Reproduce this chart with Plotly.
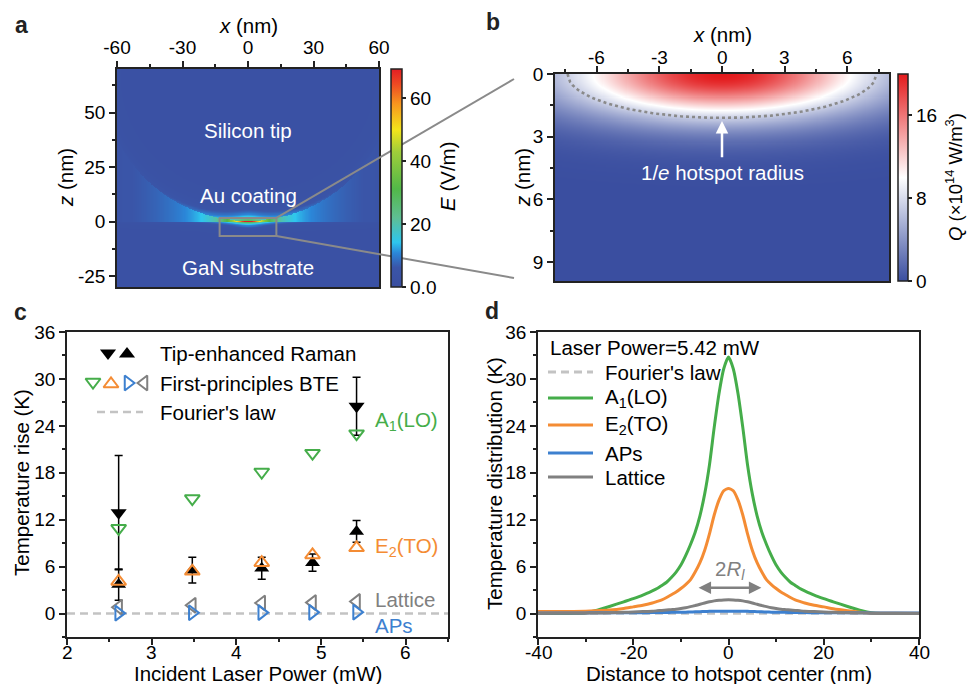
import numpy as np
import plotly.graph_objects as go

W, H = 967, 684
FONT = "Liberation Sans, Arial, sans-serif"

# ---------------- data: panel c ----------------
power = [2.61, 3.48, 4.30, 4.90, 5.42]
ters_a1_power = [2.61, 5.42]
ters_a1 = [12.9, 26.5]
ters_a1_err = [7.3, 3.7]
ters_e2 = [3.7, 5.55, 5.8, 6.5, 10.5]
ters_e2_err = [2.0, 1.65, 1.4, 1.1, 1.4]
bte_a1 = [10.9, 14.7, 18.1, 20.5, 23.0]
bte_e2 = [4.1, 5.4, 6.5, 7.5, 8.4]
bte_lattice = [0.8, 1.05, 1.35, 1.4, 1.55]
bte_aps = [0.05, 0.10, 0.12, 0.15, 0.18]
fourier_c_x = [2.0, 6.5]
fourier_c_y = [0.0, 0.0]

# ---------------- data: panel d ----------------
dist = [-40, -35, -30, -28, -25, -22, -20, -18, -16, -15, -14, -13, -12, -11, -10, -9, -8, -7, -6, -5,
        -4, -3, -2, -1, 0, 1, 2, 3, 4, 5, 6, 7, 8, 9, 10, 11, 12, 13, 14, 15, 16, 18, 20, 22, 25, 28,
        30, 32, 35, 40]
temp_a1 = [0.0, 0.0, 0.1, 0.35, 0.9, 1.5, 1.9, 2.35, 2.9, 3.2, 3.6, 4.0, 4.6, 5.3, 6.2, 7.4, 8.8, 10.4,
           12.5, 15.3, 19.0, 23.8, 28.1, 31.3, 32.8, 31.3, 28.1, 23.8, 19.0, 15.3, 12.5, 10.4, 8.8, 7.4,
           6.2, 5.3, 4.6, 4.0, 3.6, 3.2, 2.9, 2.35, 1.9, 1.5, 0.9, 0.35, 0.1, 0.0, 0.0, 0.0]
temp_e2 = [0.25, 0.25, 0.3, 0.35, 0.45, 0.65, 0.85, 1.05, 1.35, 1.55, 1.75, 2.05, 2.4, 2.75, 3.2, 3.7,
           4.3, 5.3, 6.5, 8.1, 10.2, 12.6, 14.5, 15.7, 16.0, 15.7, 14.5, 12.6, 10.2, 8.1, 6.5, 5.3, 4.3,
           3.7, 3.2, 2.75, 2.4, 2.05, 1.75, 1.55, 1.35, 1.05, 0.85, 0.6, 0.35, 0.15, 0.05, 0.05, 0.05, 0.05]
temp_aps = [0.08, 0.08, 0.08, 0.09, 0.1, 0.1, 0.1, 0.11, 0.12, 0.12, 0.13, 0.14, 0.15, 0.16, 0.17, 0.18,
            0.2, 0.22, 0.24, 0.26, 0.28, 0.29, 0.3, 0.3, 0.3, 0.3, 0.3, 0.29, 0.28, 0.26, 0.24, 0.22,
            0.2, 0.18, 0.17, 0.16, 0.15, 0.14, 0.13, 0.12, 0.12, 0.11, 0.1, 0.1, 0.1, 0.09, 0.08, 0.08,
            0.08, 0.08]
temp_lattice = [0.02, 0.03, 0.05, 0.06, 0.1, 0.15, 0.2, 0.25, 0.3, 0.35, 0.4, 0.45, 0.5, 0.56, 0.65,
                0.75, 0.88, 1.02, 1.18, 1.35, 1.5, 1.62, 1.7, 1.74, 1.75, 1.74, 1.7, 1.62, 1.5, 1.35,
                1.18, 1.02, 0.88, 0.75, 0.65, 0.56, 0.5, 0.45, 0.4, 0.35, 0.3, 0.25, 0.2, 0.15, 0.1,
                0.06, 0.05, 0.04, 0.03, 0.02]
fourier_d_x = [-40, 40]
fourier_d_y = [0.0, 0.0]

# ---------------- field parameters: panel a (E field) ----------------
tip_radius = 67.0      # nm, curvature of the coated tip apex
gap = 0.5              # nm, tip-substrate gap
E_background = 3.0     # V/m
E_peak = 60.0          # V/m, in the gap
gap_width = 7.0        # nm
E_wing = 10.0
wing_len = 35.0
tip_factor = 0.3
decay_tip = 2.0
decay_wing = 3.0
decay_sub = 1.2
E_max = 69.2

# ---------------- field parameters: panel b (heat source Q) ----------------
Q_max = 20.0           # x10^14 W/m^3
hot_rx = 7.4           # nm, 1/e radius along x
hot_rz = 2.1           # nm, 1/e depth along z

# ---------------- styles ----------------
GREEN = "#45ad4a"
ORANGE = "#f48c34"
BLUE = "#3d80cf"
GRAY = "#808080"
LGRAY = "#c3c3c3"
TXT = 20.5
TICK = 19

jet = [[0.0, "#3a4ea0"], [0.09, "#3a55a8"], [0.155, "#2b86d8"], [0.205, "#2ec6ee"],
       [0.32, "#5fbf92"], [0.45, "#52b848"], [0.62, "#9fcd3a"], [0.72, "#f2e41b"],
       [0.84, "#f7961e"], [0.93, "#ee4a23"], [1.0, "#e31e24"]]
bwr = [[0.0, "#3a4ea0"], [0.5, "#ffffff"], [1.0, "#e31a1c"]]

# pixel geometry of panels
A_X, A_Y = (117, 379), (69, 287)
B_X, B_Y = (555, 889), (74, 281)
C_X, C_Y = (67, 448), (332, 637)
D_X, D_Y = (538, 919), (332, 637)


def xdom(p):
    return [p[0] / W, p[1] / W]


def ydom(p):
    return [1 - p[1] / H, 1 - p[0] / H]


# ---------------- build fields ----------------
xa = np.linspace(-60, 60, 481)
za = np.linspace(-30, 70, 401)
X, Z = np.meshgrid(xa, za)
core = E_peak / (1 + (X / gap_width) ** 2)
wing = E_wing * np.exp(-np.abs(X) / wing_len)
G = E_background + core + wing
d_in = np.sqrt(X ** 2 + (Z - tip_radius - gap) ** 2) - tip_radius
E_tip = E_background + tip_factor * core * np.exp(d_in / decay_tip) + wing * np.exp(d_in / decay_wing)
E_sub = E_background + (core + wing) * np.exp(Z / decay_sub) * 0.45
Ea = np.where(Z < 0, E_sub, np.where(d_in > 0, G, E_tip))

xb = np.linspace(-8, 8, 321)
zb = np.linspace(0, 9.9, 199)
XB, ZB = np.meshgrid(xb, zb)
Qb = Q_max * np.exp(-(XB / hot_rx) ** 2 - (ZB / hot_rz) ** 2)
cont_x = np.linspace(-hot_rx, hot_rx, 121)
cont_z = hot_rz * np.sqrt(np.clip(1 - (cont_x / hot_rx) ** 2, 0, None))

fig = go.Figure()

# panel a
fig.add_trace(go.Heatmap(x=xa, y=za, z=Ea, coloraxis="coloraxis", xaxis="x", yaxis="y",
                         zsmooth=False, hoverinfo="skip"))
# panel b
fig.add_trace(go.Heatmap(x=xb, y=zb, z=Qb, coloraxis="coloraxis2", xaxis="x2", yaxis="y2",
                         zsmooth=False, hoverinfo="skip"))
fig.add_trace(go.Scatter(x=cont_x, y=cont_z, mode="lines", xaxis="x2", yaxis="y2",
                         line=dict(color="#8a8a8a", width=2.6, dash="dot"), showlegend=False))

# panel c
fig.add_trace(go.Scatter(x=fourier_c_x, y=fourier_c_y, mode="lines", xaxis="x3", yaxis="y3",
                         line=dict(color=LGRAY, width=2.5, dash="8px,5px"), showlegend=False))
fig.add_trace(go.Scatter(x=ters_a1_power, y=ters_a1, mode="markers", xaxis="x3", yaxis="y3",
                         error_y=dict(type="data", array=ters_a1_err, color="black", thickness=1.5, width=4),
                         marker=dict(symbol="triangle-down", size=14, color="black"), showlegend=False))
fig.add_trace(go.Scatter(x=power, y=ters_e2, mode="markers", xaxis="x3", yaxis="y3",
                         error_y=dict(type="data", array=ters_e2_err, color="black", thickness=1.5, width=4),
                         marker=dict(symbol="triangle-up", size=13, color="black"), showlegend=False))
for vals, sym, col in [(bte_a1, "triangle-down-open", GREEN), (bte_e2, "triangle-up-open", ORANGE),
                       (bte_lattice, "triangle-left-open", GRAY), (bte_aps, "triangle-right-open", BLUE)]:
    fig.add_trace(go.Scatter(x=power, y=vals, mode="markers", xaxis="x3", yaxis="y3",
                             marker=dict(symbol=sym, size=13, color=col, line=dict(width=2, color=col)),
                             showlegend=False))

# panel d
fig.add_trace(go.Scatter(x=fourier_d_x, y=fourier_d_y, mode="lines", xaxis="x4", yaxis="y4",
                         line=dict(color=LGRAY, width=2.5, dash="8px,5px"), showlegend=False))
for vals, col in [(temp_a1, GREEN), (temp_e2, ORANGE), (temp_aps, BLUE), (temp_lattice, GRAY)]:
    fig.add_trace(go.Scatter(x=dist, y=vals, mode="lines", xaxis="x4", yaxis="y4",
                             line=dict(color=col, width=3, shape="spline", smoothing=0.6),
                             showlegend=False))

# legend keys (overlay pixel axes)
fig.add_trace(go.Scatter(x=[108, 127], y=[353, 354], mode="markers", xaxis="x5", yaxis="y5",
                         marker=dict(symbol=["triangle-down", "triangle-up"], size=14, color="black"),
                         showlegend=False, hoverinfo="skip"))
fig.add_trace(go.Scatter(x=[93, 111, 128, 144], y=[382, 384, 383, 383], mode="markers", xaxis="x5", yaxis="y5",
                         marker=dict(symbol=["triangle-down-open", "triangle-up-open", "triangle-right-open",
                                             "triangle-left-open"], size=13,
                                     color=[GREEN, ORANGE, BLUE, GRAY],
                                     line=dict(width=2, color=[GREEN, ORANGE, BLUE, GRAY])),
                         showlegend=False, hoverinfo="skip"))


def axis_common(**kw):
    d = dict(showline=True, linecolor="#222", linewidth=1.5, mirror=True, ticks="outside",
             ticklen=6, tickwidth=1.5, tickcolor="#222", showgrid=False, zeroline=False,
             automargin=False,
             tickfont=dict(size=TICK, color="black", family=FONT))
    d.update(kw)
    return d


def minor(dt, t0=None):
    m = dict(dtick=dt, ticklen=3, tickwidth=1.5, tickcolor="#222", ticks="outside")
    if t0 is not None:
        m["tick0"] = t0
    return m


def labels(vals):
    return [("-" + str(abs(v))) if v < 0 else str(v) for v in vals]


ta_x = [-60, -30, 0, 30, 60]
ta_z = [-25, 0, 25, 50]
tb_x = [-6, -3, 0, 3, 6]
tb_z = [0, 3, 6, 9]
tc_x = [2, 3, 4, 5, 6]
tcd_y = [0, 6, 12, 18, 24, 30, 36]
td_x = [-40, -20, 0, 20, 40]

layout = dict(
    width=W, height=H, autosize=False, margin=dict(l=0, r=0, t=0, b=0, autoexpand=False),
    paper_bgcolor="white", plot_bgcolor="rgba(0,0,0,0)",
    font=dict(family=FONT, color="black", size=TICK),
    xaxis=axis_common(domain=xdom(A_X), range=[-60, 60], anchor="y", side="top",
                      tickvals=ta_x, ticktext=labels(ta_x), minor=minor(15)),
    yaxis=axis_common(domain=ydom(A_Y), range=[-30, 70], anchor="x",
                      tickvals=ta_z, ticktext=labels(ta_z), minor=minor(12.5, -25)),
    xaxis2=axis_common(domain=xdom(B_X), range=[-8, 8], anchor="y2", side="top", showticklabels=False,
                       tickvals=tb_x, minor=minor(1.5, -7.5)),
    yaxis2=axis_common(domain=ydom(B_Y), range=[9.9, 0], anchor="x2",
                       tickvals=tb_z, ticktext=labels(tb_z), minor=minor(1.5)),
    xaxis3=axis_common(domain=xdom(C_X), range=[2, 6.5], anchor="y3", showticklabels=False,
                       tickvals=tc_x, minor=minor(0.5)),
    yaxis3=axis_common(domain=ydom(C_Y), range=[-3, 36], anchor="x3",
                       tickvals=tcd_y, ticktext=labels(tcd_y), minor=minor(3)),
    xaxis4=axis_common(domain=xdom(D_X), range=[-40, 40], anchor="y4", showticklabels=False,
                       tickvals=td_x, minor=minor(10)),
    yaxis4=axis_common(domain=ydom(D_Y), range=[-3, 36], anchor="x4",
                       tickvals=tcd_y, ticktext=labels(tcd_y), minor=minor(3)),
    xaxis5=dict(domain=[0, 1], range=[0, W], visible=False, anchor="y5", fixedrange=True, automargin=False),
    yaxis5=dict(domain=[0, 1], range=[H, 0], visible=False, anchor="x5", fixedrange=True, automargin=False),
    coloraxis=dict(cmin=0, cmax=E_max, colorscale=jet,
                   colorbar=dict(x=391 / W, xanchor="left", xpad=0, y=1 - 178 / H, yanchor="middle", ypad=0,
                                 xref="container", yref="container",
                                 len=218 / H, lenmode="fraction", thickness=11, thicknessmode="pixels",
                                 outlinewidth=1.5, outlinecolor="#222", ticks="outside", ticklen=4,
                                 tickwidth=1.5, tickcolor="#222", tickvals=[0, 20, 40, 60],
                                 ticktext=["0.0", "20", "40", "60"],
                                 tickfont=dict(size=TICK, color="black", family=FONT))),
    coloraxis2=dict(cmin=0, cmax=Q_max, colorscale=bwr,
                    colorbar=dict(x=898 / W, xanchor="left", xpad=0, y=1 - 177.5 / H, yanchor="middle", ypad=0,
                                  xref="container", yref="container",
                                  len=207 / H, lenmode="fraction", thickness=10, thicknessmode="pixels",
                                  outlinewidth=1.5, outlinecolor="#222", ticks="outside", ticklen=4,
                                  tickwidth=1.5, tickcolor="#222", tickvals=[0, 8, 16],
                                  tickfont=dict(size=TICK, color="black", family=FONT))),
)
fig.update_layout(**layout)

ann = []


def txt(text, x, y, size=TXT, color="black", angle=0, xanchor="center", ref=("x5", "y5")):
    ann.append(dict(text=text, x=x, y=y, xref=ref[0], yref=ref[1], showarrow=False, textangle=angle,
                    xanchor=xanchor, yanchor="middle", font=dict(size=size, color=color, family=FONT)))


# tick labels placed as text (b top, c and d bottom)
for v, t in zip(tb_x, labels(tb_x)):
    txt(t, v, 57, size=TICK, ref=("x2", "y5"))
for v, t in zip(tc_x, labels(tc_x)):
    txt(t, v, 652, size=TICK, ref=("x3", "y5"))
for v, t in zip(td_x, labels(td_x)):
    txt(t, v, 652, size=TICK, ref=("x4", "y5"))
# panel letters
for t, x, y in [("a", 21, 25), ("b", 493, 22), ("c", 20, 312), ("d", 492, 311)]:
    txt(f"<b>{t}</b>", x, y, size=23, color="#222")
# axis titles
txt("<i>x</i> (nm)", 248, 25)
txt("<i>z</i> (nm)", 65, 178, angle=-90)
txt("<i>x</i> (nm)", 722, 34)
txt("<i>z</i> (nm)", 522, 178, angle=-90)
txt("Incident Laser Power (mW)", 258, 673)
txt("Temperature rise (K)", 21, 483, angle=-90)
txt("Distance to hotspot center (nm)", 729, 673)
txt("Temperature distribution (K)", 494, 484, angle=-90)
# colorbar titles
txt("<i>E</i> (V/m)", 447, 177, angle=-90)
txt("<i>Q</i> (×10<sup>14</sup> W/m<sup>3</sup>)", 954, 177, size=18.5, angle=-90)
# panel a texts
for t, z in [("Silicon tip", 42), ("Au coating", 12), ("GaN substrate", -21)]:
    txt(t, 0, z, color="white", ref=("x", "y"))
# panel b arrow + text
ann.append(dict(text="", x=0, y=2.25, ax=0, ay=4.05, xref="x2", yref="y2", axref="x2", ayref="y2",
                showarrow=True, arrowhead=2, arrowsize=1, arrowwidth=2.5, arrowcolor="white"))
txt("1/<i>e</i> hotspot radius", 0, 4.7, color="white", ref=("x2", "y2"))
# panel c labels
for t, y, col in [("A<sub>1</sub>(LO)", 24.6, GREEN), ("E<sub>2</sub>(TO)", 8.5, ORANGE),
                  ("Lattice", 1.8, GRAY), ("APs", -1.5, BLUE)]:
    txt(t, 5.62, y, color=col, xanchor="left", ref=("x3", "y3"))
# panel c legend texts
for t, y in [("Tip-enhanced Raman", 353), ("First-principles BTE", 383), ("Fourier's law", 412)]:
    txt(t, 158, y, xanchor="left")
# panel d legend
txt("Laser Power=5.42 mW", 548, 347, xanchor="left")
for t, y in [("Fourier's law", 372), ("A<sub>1</sub>(LO)", 398), ("E<sub>2</sub>(TO)", 425),
             ("APs", 453), ("Lattice", 477)]:
    txt(t, 603, y, xanchor="left")
# panel d 2R_l
ann.append(dict(text="", x=6.9, y=3.3, ax=-6.6, ay=3.3, xref="x4", yref="y4", axref="x4", ayref="y4",
                showarrow=True, arrowhead=2, arrowside="end+start", arrowsize=1, arrowwidth=2.5,
                arrowcolor=GRAY))
txt("2<i>R</i><sub><i>l</i></sub>", 0.3, 5.6, color=GRAY, ref=("x4", "y4"))
fig.update_layout(annotations=ann)

shapes = []
# zoom box + connector lines
shapes.append(dict(type="rect", xref="x", yref="y", x0=-13, x1=13, y0=-6.6, y1=1.7,
                   line=dict(color="#8a8a8a", width=2)))


def a_to_px(x, z):
    px = A_X[0] + (x + 60) / 120 * (A_X[1] - A_X[0])
    py = A_Y[1] - (z + 30) / 100 * (A_Y[1] - A_Y[0])
    return px, py


cx1, cy1 = a_to_px(13, 1.7)
cx2, cy2 = a_to_px(13, -6.6)
shapes.append(dict(type="line", xref="x5", yref="y5", x0=cx1, y0=cy1, x1=514, y1=79,
                   line=dict(color="#8a8a8a", width=2)))
shapes.append(dict(type="line", xref="x5", yref="y5", x0=cx2, y0=cy2, x1=514, y1=278,
                   line=dict(color="#8a8a8a", width=2)))
# legend line keys
shapes.append(dict(type="line", xref="x5", yref="y5", x0=97, x1=143, y0=412, y1=412,
                   line=dict(color=LGRAY, width=2.5, dash="8px,5px")))
for y, col, dash in [(372, LGRAY, "8px,5px"), (398, GREEN, "solid"), (425, ORANGE, "solid"),
                     (453, BLUE, "solid"), (477, GRAY, "solid")]:
    shapes.append(dict(type="line", xref="x5", yref="y5", x0=548, x1=593, y0=y, y1=y,
                       line=dict(color=col, width=3, dash=dash)))
fig.update_layout(shapes=shapes)

fig.write_html("out.html")
